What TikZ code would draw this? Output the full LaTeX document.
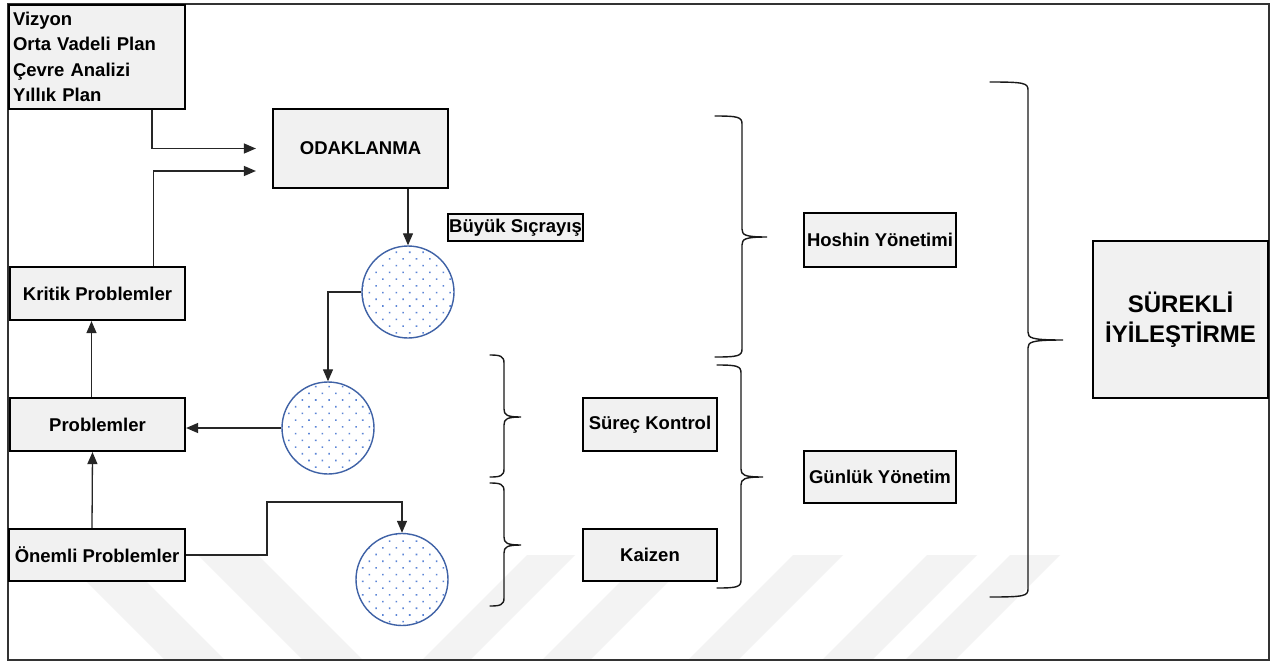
\documentclass[tikz,border=0pt]{standalone}
\usepackage{fontspec}
\setmainfont{Liberation Sans}
\usetikzlibrary{arrows.meta,patterns.meta,calc}

\definecolor{boxfill}{HTML}{F1F1F1}
\definecolor{ringblue}{HTML}{3F62A6}
\definecolor{dotblue}{HTML}{5B85D6}
\definecolor{wmark}{HTML}{F3F3F3}
\definecolor{linegray}{HTML}{262626}
\definecolor{framegray}{HTML}{333333}

% curly brace: #1 end x, #2 spine x, #3 tip x, #4 top y, #5 tip y, #6 bottom y
\newcommand\drawbrace[6]{%
  \draw[bracestyle] (#1,#4) .. controls (#2-4,#4) and (#2,#4+1) .. (#2,#4+8)
    -- (#2,#5-8) .. controls (#2,#5-2) and (#2+3,#5) .. (#3,#5)
    .. controls (#2+3,#5) and (#2,#5+2) .. (#2,#5+8)
    -- (#2,#6-8) .. controls (#2,#6-1) and (#2-4,#6) .. (#1,#6);}

\tikzset{
  box/.style={draw=black, line width=2.2pt, fill=boxfill, inner sep=0pt,
    font=\bfseries\fontsize{18.5}{25.5}\selectfont, align=center},
  ring/.style={circle, draw=ringblue, line width=1.4pt, minimum size=92pt,
    inner sep=0pt, preaction={fill=white},
    pattern={Dots[distance=9.5pt,angle=45,radius=1.1pt]}, pattern color=dotblue},
  conn/.style={draw=linegray, line width=1.3pt},
  arrow/.style={conn, -{Triangle[length=12pt,width=10pt]}},
  bracestyle/.style={draw=black!90, line width=1.4pt, line cap=round}
}

\begin{document}
\begin{tikzpicture}[x=1pt, y=-1pt]
  \useasboundingbox (0,0) rectangle (1280,662);
  \fill[white] (0,0) rectangle (1280,662);

  % faint diagonal band pattern along the bottom
  \begin{scope}
    \clip (8,555) rectangle (1269,660);
    \fill[wmark] (60,555) -- (120,555) -- (225,660) -- (165,660) -- cycle;
    \fill[wmark] (198,555) -- (258,555) -- (363,660) -- (303,660) -- cycle;
    \fill[wmark] (527,555) -- (575,555) -- (470,660) -- (422,660) -- cycle;
    \fill[wmark] (647,555) -- (695,555) -- (590,660) -- (542,660) -- cycle;
    \fill[wmark] (793,555) -- (843,555) -- (738,660) -- (688,660) -- cycle;
    \fill[wmark] (927,555) -- (977,555) -- (872,660) -- (822,660) -- cycle;
    \fill[wmark] (1010,555) -- (1060,555) -- (955,660) -- (905,660) -- cycle;
  \end{scope}

  % outer frame
  \draw[framegray, line width=2pt] (8,4) rectangle (1269,660);

  % boxes
  \node[box, minimum width=176pt, minimum height=104pt, text width=168pt,
        align=left, inner xsep=4pt] (viz) at (97,57)
        {Vizyon\\Orta Vadeli Plan\\Çevre Analizi\\Yıllık Plan};
  \node[box, minimum width=175pt, minimum height=79pt] (odak) at (360.5,148.5) {ODAKLANMA};
  \node[box, minimum width=135pt, minimum height=27pt, line width=2pt] (buyuk) at (515.5,227.5) {Büyük Sıçrayış};
  \node[box, minimum width=175pt, minimum height=53pt] (kritik) at (97.5,293.5) {Kritik Problemler};
  \node[box, minimum width=175pt, minimum height=53pt] (prob) at (97.5,424.5) {Problemler};
  \node[box, minimum width=176pt, minimum height=52pt] (onemli) at (97,555) {Önemli Problemler};
  \node[box, minimum width=134pt, minimum height=53pt] (surec) at (650,424.5) {Süreç Kontrol};
  \node[box, minimum width=134pt, minimum height=52pt] (kaizen) at (650,555) {Kaizen};
  \node[box, minimum width=152pt, minimum height=54pt] (hoshin) at (880,240) {Hoshin Yönetimi};
  \node[box, minimum width=152pt, minimum height=52pt] (gunluk) at (880,477) {Günlük Yönetim};
  \node[box, minimum width=175pt, minimum height=157pt,
        font=\bfseries\fontsize{24}{30}\selectfont] (surekli) at (1180.5,319.5)
        {SÜREKLİ\\İYİLEŞTİRME};

  % circles
  \node[ring] (c1) at (408,292) {};
  \node[ring] (c2) at (328,428) {};
  \node[ring] (c3) at (402,579.5) {};

  % connectors
  \draw[arrow, shorten >=16pt] ([xshift=55pt]viz.south) |- (odak.west);
  \draw[arrow, shorten >=16pt] ([xshift=56pt]kritik.north) |- ([yshift=-22.5pt]odak.west);
  \draw[arrow] (odak.south -| c1.north) -- (c1.north);
  \draw[arrow] (c1.west) -| (c2.north);
  \draw[arrow] (c2.west) -- (c2.west -| prob.east);
  \draw[arrow] ([xshift=-6pt]prob.north) -- ([xshift=-6pt]kritik.south);
  \draw[arrow] ([xshift=-5pt]onemli.north) -- ([xshift=-5pt]prob.south);
  \coordinate (bend) at (267,502);
  \draw[arrow] (onemli.east) -| (bend) -- (bend -| c3.north) -- (c3.north);

  % braces
  \drawbrace{490}{504}{521}{355}{417}{477}
  \drawbrace{490}{504}{521}{483}{545}{606}
  \drawbrace{715}{742}{767}{116}{237}{357}
  \drawbrace{717}{741}{763}{365}{477}{588}
  \drawbrace{990}{1028}{1063}{82}{340}{597}
\end{tikzpicture}
\end{document}
